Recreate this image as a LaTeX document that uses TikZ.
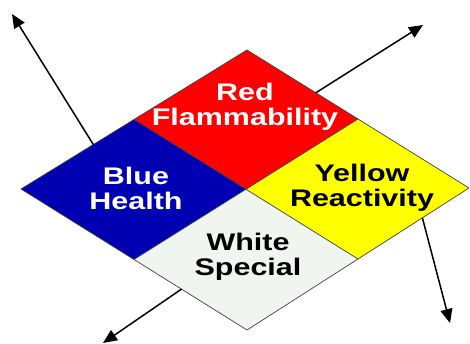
\documentclass[tikz,border=0pt]{standalone}
\usepackage{fontspec}
\setmainfont{Liberation Sans}
\usepackage{tikz}
\usetikzlibrary{arrows.meta,calc}
\definecolor{nfpared}{RGB}{255,0,0}
\definecolor{nfpablue}{RGB}{0,0,178}
\definecolor{nfpayellow}{RGB}{255,255,0}
\definecolor{nfpawhite}{RGB}{240,245,240}

\begin{document}
\begin{tikzpicture}[
    x=1pt,y=-1pt,
    quad/.style={draw=black!75,line width=0.7pt,line join=round},
    lbl/.style={align=center,font=\fontsize{24}{25}\selectfont\bfseries,xscale=1.27,inner sep=0pt},
    arr/.style={-{Triangle[length=14pt,width=12pt]},line width=1.5pt}
]
    \useasboundingbox (0,0) rectangle (470,343);
    % corners of the diamond
    \coordinate (L) at (21,189);
    \coordinate (T) at (247,50);
    \coordinate (R) at (469,188);
    \coordinate (B) at (247,330);
    \coordinate (LT) at ($(L)!0.5!(T)$);
    \coordinate (TR) at ($(T)!0.5!(R)$);
    \coordinate (RB) at ($(R)!0.5!(B)$);
    \coordinate (BL) at ($(B)!0.5!(L)$);
    \coordinate (C) at ($(LT)!0.5!(RB)$);

    \fill[nfpared] (T)--(TR)--(C)--(LT)--cycle;
    \fill[nfpablue] (L)--(LT)--(C)--(BL)--cycle;
    \fill[nfpayellow] (R)--(RB)--(C)--(TR)--cycle;
    \fill[nfpawhite] (B)--(BL)--(C)--(RB)--cycle;
    \draw[quad] (L)--(T)--(R)--(B)--cycle;
    \draw[quad] (LT)--(RB);
    \draw[quad] (TR)--(BL);

    \node[lbl,text=white] (red) at (245,107) {Red\\Flammability};
    \node[lbl,text=white] (blue) at (136,188) {Blue\\Health};
    \node[lbl,text=black] (yellow) at (362,188) {Yellow\\Reactivity};
    \node[lbl,text=black] (white) at (248,257) {White\\Special};

    % arrows pointing away from the sign
    \coordinate (ulS) at ($(L)!0.32!(T)$);
    \coordinate (urS) at ($(T)!0.31!(R)$);
    \coordinate (lrS) at ($(R)!0.21!(B)$);
    \coordinate (llS) at ($(B)!0.29!(L)$);
    \coordinate (ulE) at (12,14);
    \coordinate (urE) at (423,25);
    \coordinate (lrE) at (450,323);
    \coordinate (llE) at (103,343);
    \draw[arr] (ulS)--(ulE);
    \draw[arr] (urS)--(urE);
    \draw[arr] (lrS)--(lrE);
    \draw[arr] (llS)--(llE);
\end{tikzpicture}
\end{document}
